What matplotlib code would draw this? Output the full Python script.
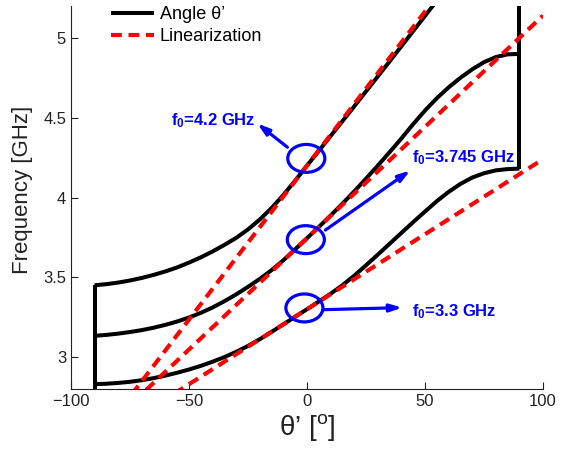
import numpy as np
import matplotlib
matplotlib.use('Agg')
import matplotlib.pyplot as plt
from matplotlib.patches import Ellipse
from matplotlib.lines import Line2D

plt.rcParams['font.family'] = ['Liberation Sans', 'DejaVu Sans']
plt.rcParams['mathtext.fontset'] = 'custom'
plt.rcParams['mathtext.rm'] = 'Liberation Sans'
plt.rcParams['mathtext.bf'] = 'Liberation Sans:bold'
plt.rcParams['mathtext.it'] = 'Liberation Sans:italic'

# angle grid [deg] and frequency curves [GHz]
theta = [-90, -85, -80, -75, -70, -65, -60, -55, -50, -45, -40, -35, -30, -25, -20,
         -15, -10, -5, 0, 5, 10, 15, 20, 25, 30, 35, 40, 45, 50, 55, 60, 65, 70,
         75, 80, 85, 90]
f_low = [2.83, 2.833, 2.838, 2.845, 2.855, 2.868, 2.884, 2.902, 2.922, 2.945, 2.971,
         3.00, 3.033, 3.07, 3.112, 3.158, 3.205, 3.253, 3.30, 3.348, 3.397, 3.45,
         3.51, 3.575, 3.642, 3.71, 3.778, 3.846, 3.912, 3.977, 4.035, 4.085, 4.125,
         4.152, 4.17, 4.178, 4.181]
f_mid = [3.133, 3.139, 3.147, 3.157, 3.169, 3.184, 3.202, 3.223, 3.248, 3.277, 3.311,
         3.35, 3.393, 3.44, 3.49, 3.545, 3.607, 3.675, 3.745, 3.815, 3.887, 3.961,
         4.038, 4.118, 4.20, 4.284, 4.37, 4.46, 4.545, 4.622, 4.69, 4.75, 4.803,
         4.848, 4.88, 4.897, 4.90]
theta_top = [-90, -85, -80, -75, -70, -65, -60, -55, -50, -45, -40, -35, -30, -25, -20,
             -15, -10, -5, 0, 5, 10, 15, 20, 25, 30, 35, 40, 45, 50, 55]
f_top = [3.45, 3.457, 3.467, 3.48, 3.496, 3.515, 3.537, 3.562, 3.592, 3.625, 3.662,
         3.703, 3.747, 3.80, 3.862, 3.934, 4.016, 4.106, 4.20, 4.292, 4.385, 4.478,
         4.571, 4.665, 4.759, 4.853, 4.948, 5.043, 5.138, 5.233]

# linearization lines: values at theta = -100 and 100
lin_x = [-100, 100]
lin_top = [2.27, 6.13]
lin_mid = [2.35, 5.14]
lin_low = [2.36, 4.24]

# edge lines
left_edge_y = [2.7, 3.45]
right_edge_y = [4.181, 5.3]

# annotations
f0_labels = [r'$\mathbf{f_0}$=4.2 GHz', r'$\mathbf{f_0}$=3.745 GHz', r'$\mathbf{f_0}$=3.3 GHz']
circ_x = [-0.3, -0.5, -1.1]
circ_y = [4.245, 3.736, 3.308]
arrow_tail = [(-8.3, 4.315), (7.8, 3.796), (6.9, 3.297)]
arrow_head = [(-21.1, 4.464), (43.8, 4.17), (40.4, 3.31)]
text_pos = [(-21.9, 4.45), (44.6, 4.22), (44.4, 3.256)]
text_ha = ['right', 'left', 'left']

fig = plt.figure(figsize=(5.7, 4.49), dpi=100)
ax = fig.add_axes([71/570, 60/449, 472/570, 383/449])

blk = dict(color='black', lw=2.9, solid_capstyle='butt', solid_joinstyle='round')
ax.plot(theta_top, f_top, **blk)
ax.plot(theta, f_mid, **blk)
ax.plot(theta, f_low, **blk)
ax.plot([-90, -90], left_edge_y, **blk)
ax.plot([90, 90], right_edge_y, **blk)

red = dict(color='red', lw=3, dashes=(2.6, 1.6))
for ys in (lin_top, lin_mid, lin_low):
    ax.plot(lin_x, ys, **red)

for cx, cy in zip(circ_x, circ_y):
    ax.add_patch(Ellipse((cx, cy), 15.7, 0.175, fill=False, ec='#0000ff', lw=2.3, zorder=5))

for lab, t, h, p, ha in zip(f0_labels, arrow_tail, arrow_head, text_pos, text_ha):
    ax.annotate('', xy=h, xytext=t,
                arrowprops=dict(arrowstyle='-|>,head_length=0.7,head_width=0.22',
                                color='#0000ff', lw=2.3, shrinkA=0, shrinkB=0))
    ax.text(p[0], p[1], lab, color='#0000ff', fontsize=12, fontweight='bold',
            ha=ha, va='baseline')

ax.set_xlim(-100, 100)
ax.set_ylim(2.8, 5.2)
ax.set_xticks([-100, -50, 0, 50, 100])
ax.set_yticks([3, 3.5, 4, 4.5, 5])
ax.set_yticklabels(['3', '3.5', '4', '4.5', '5'])
ax.tick_params(direction='in', length=5, labelsize=12, colors='#222222')
ax.spines['top'].set_visible(False)
ax.spines['right'].set_visible(False)
for s in ('left', 'bottom'):
    ax.spines[s].set_color('#222222')
    ax.spines[s].set_linewidth(0.8)

ax.set_xlabel(r'θ’ [$^{\mathrm{o}}$]', fontsize=20, color='#222222', labelpad=2)
ax.set_ylabel('Frequency [GHz]', fontsize=16, color='#222222')
ax.yaxis.set_label_coords(-0.08, 0.52)

handles = [Line2D([], [], **blk), Line2D([], [], **red)]
ax.legend(handles, ['Angle θ’', 'Linearization'], loc='upper left',
          bbox_to_anchor=(0.085, 0.999), frameon=False, fontsize=13,
          handlelength=2.4, handletextpad=0.3, labelspacing=0.25,
          borderpad=0, borderaxespad=0)

fig.savefig('out.png', dpi=100)
